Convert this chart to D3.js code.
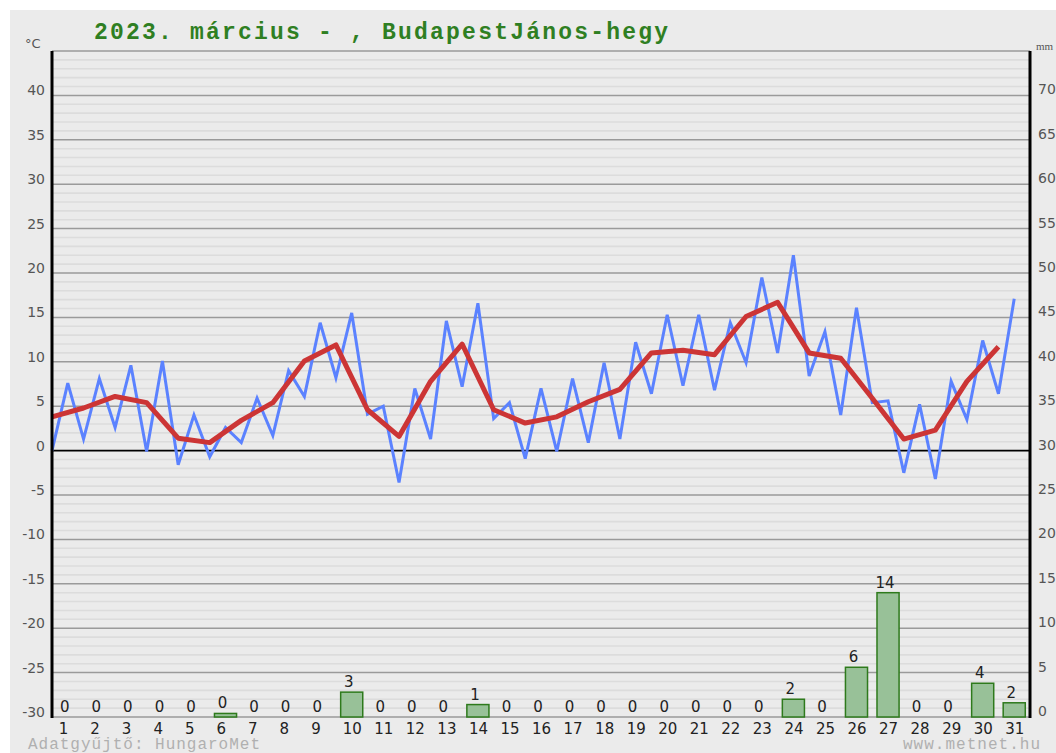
<!DOCTYPE html>
<html>
<head>
<meta charset="utf-8">
<script src="https://cdn.jsdelivr.net/npm/d3@7"></script>
<style>
html,body{margin:0;padding:0;background:#fff;}
svg{display:block;}
</style>
</head>
<body>
<svg id="chart" width="1056" height="753"></svg>
<script>
// ---- data ----
const days = [1,2,3,4,5,6,7,8,9,10,11,12,13,14,15,16,17,18,19,20,21,22,23,24,25,26,27,28,29,30,31];
// night (minimum) temperature, drawn at start of each day
const tMin = [0.0,1.3,2.6,-0.1,-1.6,-0.7,0.9,1.7,6.1,8.2,4.1,-3.6,1.3,7.2,3.6,-0.9,-0.1,0.9,1.3,6.4,7.3,6.8,9.9,11.0,8.4,4.0,5.4,-2.5,-3.2,3.5,6.4];
// afternoon (maximum) temperature, drawn at middle of each day
const tMax = [7.6,8.1,9.6,10.1,4.0,2.6,5.9,9.0,14.4,15.5,5.0,7.0,14.6,16.6,5.4,7.0,8.1,9.9,12.2,15.3,15.3,14.4,19.5,22.0,13.4,16.1,5.6,5.2,7.8,12.4,17.1];
// daily mean temperature (red)
const tMean = [3.8,4.8,6.1,5.4,1.4,0.9,3.4,5.4,10.1,11.9,4.6,1.6,7.8,12.0,4.6,3.1,3.8,5.5,6.9,11.0,11.3,10.8,15.1,16.7,11.0,10.4,5.9,1.3,2.3,7.8,11.7];
// precipitation, mm
const precip = [0,0,0,0,0,0.4,0,0,0,2.8,0,0,0,1.4,0,0,0,0,0,0,0,0,0,2.0,0,5.6,14.0,0,0,3.8,1.6];
const tempTicks = [-30,-25,-20,-15,-10,-5,0,5,10,15,20,25,30,35,40];
const mmTicks = [0,5,10,15,20,25,30,35,40,45,50,55,60,65,70];
const titleText = "2023. március - , BudapestJános-hegy";
const footLeft = "Adatgyűjtő: HungaroMet";
const footRight = "www.metnet.hu";

// ---- layout ----
const L = 52, R = 1030, T = 51, B = 717;
const svg = d3.select("#chart");

const y = d3.scaleLinear().domain([-30,45]).range([B,T]);
const yMM = d3.scaleLinear().domain([0,75]).range([B,T]);
const x = d3.scaleLinear().domain([0,31]).range([L,R]);
const xb = d3.scaleBand().domain(days).range([L,R]).paddingInner(0.3).paddingOuter(0.15);

// panel background
svg.append("rect").attr("x",10).attr("y",10).attr("width",1046).attr("height",743).attr("fill","#ebebeb");

// minor grid
const minor = d3.range(-30,46).filter(v => v % 5 !== 0);
svg.append("g").selectAll("line").data(minor).join("line")
  .attr("x1",L).attr("x2",R).attr("y1",d=>y(d)).attr("y2",d=>y(d))
  .attr("stroke","#dcdcdc").attr("stroke-width",1.6);
// major grid
const major = d3.range(-30,46,5).filter(v => v !== 0);
svg.append("g").selectAll("line").data(major).join("line")
  .attr("x1",L).attr("x2",R).attr("y1",d=>y(d)).attr("y2",d=>y(d))
  .attr("stroke","#9a9a9a").attr("stroke-width",1.5);
// zero line
svg.append("line").attr("x1",L).attr("x2",R).attr("y1",y(0)).attr("y2",y(0))
  .attr("stroke","#000").attr("stroke-width",1.6);

// precipitation bars
const barH = v => Math.max(0, B - yMM(v));
svg.append("g").selectAll("rect").data(days).join("rect")
  .attr("x",d=>xb(d)).attr("width",xb.bandwidth())
  .attr("y",(d,i)=>B - barH(precip[i]) )
  .attr("height",(d,i)=>barH(precip[i]))
  .attr("fill","#98c198").attr("stroke","#2e7a1c").attr("stroke-width",1.5);
svg.append("g").selectAll("text").data(days).join("text")
  .attr("x",d=>xb(d)+xb.bandwidth()/2-3)
  .attr("y",(d,i)=>B - barH(precip[i]) - 5)
  .attr("text-anchor","middle")
  .attr("font-family","DejaVu Sans, sans-serif").attr("font-size",15).attr("fill","#222")
  .text((d,i)=>d3.format(".0f")(precip[i]));

// blue line (min / max alternating)
const bluePts = [];
days.forEach((d,i)=>{ bluePts.push([x(d-1), y(tMin[i])]); bluePts.push([x(d-0.5), y(tMax[i])]); });
svg.append("path").attr("d",d3.line()(bluePts))
  .attr("fill","none").attr("stroke","#5b82ff").attr("stroke-width",3).attr("stroke-linejoin","miter");

// red mean line
svg.append("path").attr("d",d3.line().x((d,i)=>x(days[i]-1)).y(d=>y(d))(tMean))
  .attr("fill","none").attr("stroke","#cc3535").attr("stroke-width",5).attr("stroke-linejoin","round");

// axes lines
svg.append("line").attr("x1",L).attr("x2",L).attr("y1",T).attr("y2",B+1).attr("stroke","#000").attr("stroke-width",3);
svg.append("line").attr("x1",R).attr("x2",R).attr("y1",T).attr("y2",B+1).attr("stroke","#000").attr("stroke-width",3);

// left tick labels
svg.append("g").selectAll("text").data(tempTicks).join("text")
  .attr("x",45).attr("y",d=>y(d)).attr("text-anchor","end")
  .attr("font-family","DejaVu Sans, sans-serif").attr("font-size",14).attr("fill","#555")
  .text(d=>d);
svg.append("text").attr("x",25).attr("y",48).attr("font-family","DejaVu Sans, sans-serif")
  .attr("font-size",13).attr("fill","#555").text("°C");
// right tick labels
svg.append("g").selectAll("text").data(mmTicks).join("text")
  .attr("x",1038).attr("y",d=>yMM(d)-1)
  .attr("font-family","DejaVu Sans, sans-serif").attr("font-size",14).attr("fill","#555")
  .text(d=>d);
svg.append("text").attr("x",1036).attr("y",50).attr("font-family","Liberation Serif, serif")
  .attr("font-size",11).attr("fill","#555").text("mm");

// day labels
svg.append("g").selectAll("text").data(days).join("text")
  .attr("x",d=>x(d-0.5)-9).attr("y",734)
  .attr("font-family","DejaVu Sans, sans-serif").attr("font-size",15).attr("fill","#222")
  .text(d=>d);

// title
svg.append("text").attr("x",94).attr("y",39)
  .attr("font-family","Courier New, Liberation Mono, monospace").attr("font-weight","bold")
  .attr("font-size",23).attr("fill","#2f7f22")
  .attr("textLength",574).attr("lengthAdjust","spacing")
  .text(titleText);

// footers
svg.append("text").attr("x",28).attr("y",749)
  .attr("font-family","Courier New, Liberation Mono, monospace").attr("font-size",16).attr("fill","#b0b0b0")
  .attr("textLength",232).attr("lengthAdjust","spacing")
  .text(footLeft);
svg.append("text").attr("x",903).attr("y",749)
  .attr("font-family","Courier New, Liberation Mono, monospace").attr("font-size",16).attr("fill","#b0b0b0")
  .attr("textLength",137).attr("lengthAdjust","spacing")
  .text(footRight);
</script>
</body>
</html>
